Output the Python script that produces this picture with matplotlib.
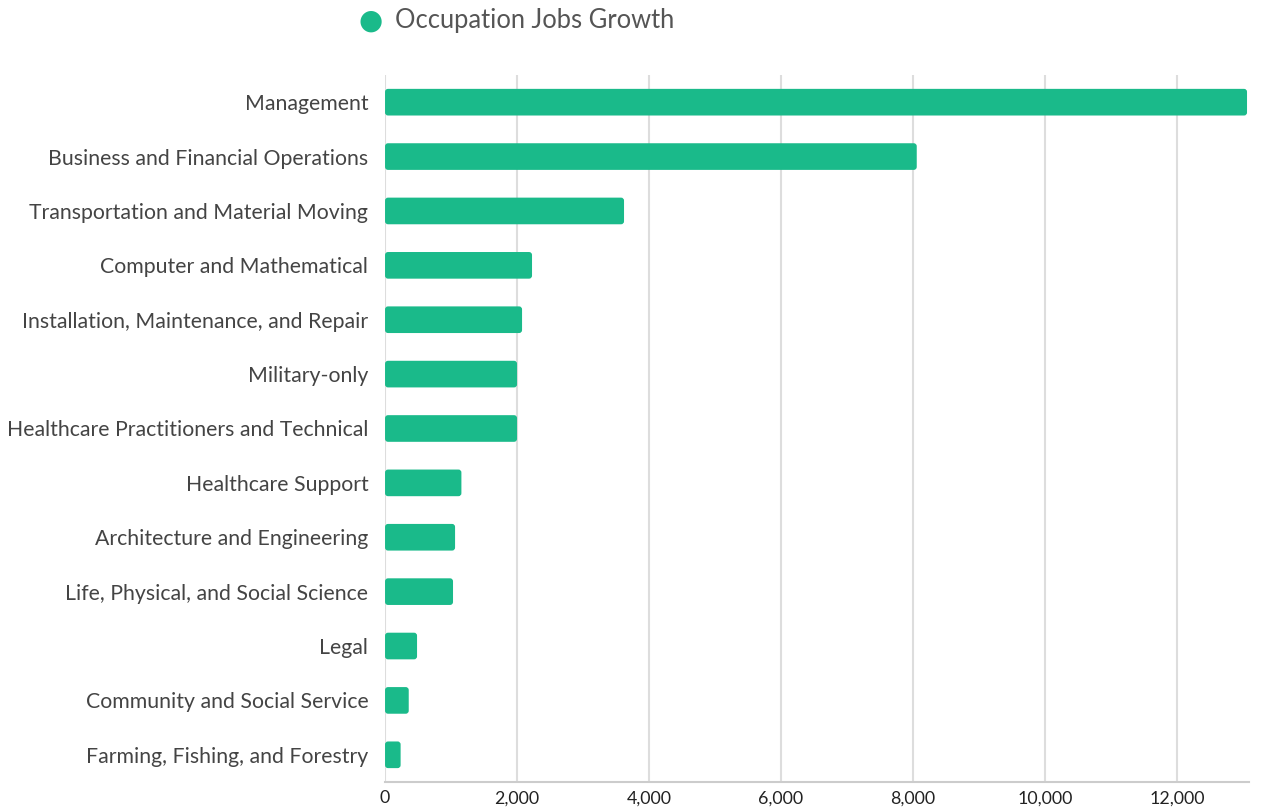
import matplotlib
matplotlib.use("Agg")
import matplotlib.pyplot as plt
from matplotlib.patches import FancyBboxPatch
from matplotlib.ticker import FuncFormatter

# data
occupations = ["Management", "Business and Financial Operations",
               "Transportation and Material Moving", "Computer and Mathematical",
               "Installation, Maintenance, and Repair", "Military-only",
               "Healthcare Practitioners and Technical", "Healthcare Support",
               "Architecture and Engineering", "Life, Physical, and Social Science",
               "Legal", "Community and Social Service", "Farming, Fishing, and Forestry"]
jobs_growth = [13060, 8056, 3621, 2227, 2076, 2000, 2000, 1157, 1061, 1030, 485, 359, 236]
series_name = "Occupation Jobs Growth"
x_ticks = [0, 2000, 4000, 6000, 8000, 10000, 12000]

green = "#1aba8a"
plt.rcParams['font.family'] = ['Lato', 'DejaVu Sans']

fig = plt.figure(figsize=(12.62, 8.09), dpi=100)
ax = fig.add_axes([0.3051, 0.0334, 0.6846, 0.8739])

ypos = list(range(len(occupations)))
bars = ax.barh(ypos, jobs_growth, height=0.49, color=green)

ax.set_xlim(0, 13090)
ax.set_ylim(len(occupations) - 0.5, -0.5)

# swap plain bars for rounded ones
x_per_px = 13090 / (0.6846 * 1262)
y_per_px = len(occupations) / (0.8739 * 809)
for b in bars:
    x0, y0 = b.get_x(), b.get_y()
    w, h = b.get_width(), b.get_height()
    r = FancyBboxPatch((x0, y0), w, h,
                       boxstyle="round,pad=0,rounding_size=%f" % (3 * x_per_px),
                       mutation_aspect=y_per_px / x_per_px,
                       facecolor=green, edgecolor="none", zorder=3)
    ax.add_patch(r)
    b.set_visible(False)

ax.set_yticks(ypos)
ax.set_yticklabels(occupations, fontsize=15.3, color="#444444")
ax.set_xticks(x_ticks)
ax.xaxis.set_major_formatter(FuncFormatter(lambda v, p: "{:,.0f}".format(v)))
ax.tick_params(axis='x', labelsize=12.8, colors="#222222", length=0, pad=6)
ax.tick_params(axis='y', length=0, pad=12)

ax.grid(axis='x', color="#dddddd", linewidth=1.5, zorder=0)
ax.set_axisbelow(True)
for s in ["top", "right", "left"]:
    ax.spines[s].set_visible(False)
ax.spines["bottom"].set_color("#cccccc")
ax.spines["bottom"].set_linewidth(1.5)

# legend at top
fig.text(0.294, 0.975, "\u25CF", color=green, fontsize=20, ha="center", va="center",
         family=['DejaVu Sans'])
fig.text(0.313, 0.975, series_name, color="#555555", fontsize=18.4, ha="left", va="center")

fig.savefig("out.png", dpi=100)
